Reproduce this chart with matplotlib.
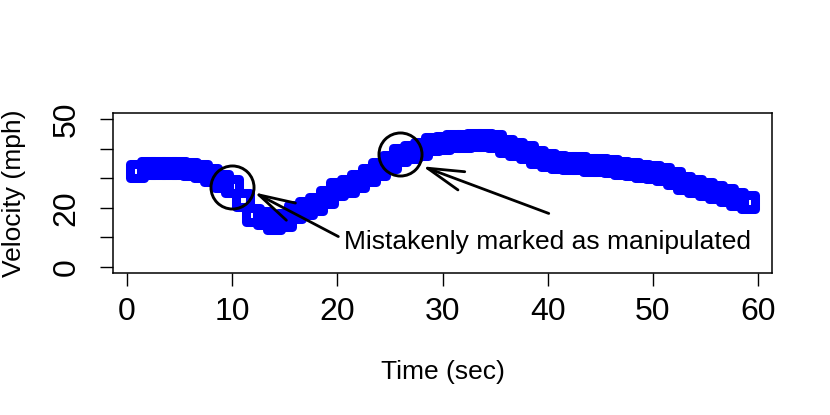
import matplotlib
matplotlib.use("Agg")
import matplotlib.pyplot as plt
from matplotlib.markers import MarkerStyle

## DATA
time_sec = list(range(1, 60))
velocity = [32.3, 33.3, 33.6, 33.6, 33.6, 33.0, 32.3, 31.0, 29.2, 27.2,
            22.8, 17.7, 16.4, 15.0, 16.0, 18.7, 20.0, 21.4, 23.8, 26.2,
            27.5, 29.2, 31.0, 33.0, 35.3, 37.7, 39.0, 40.0, 41.4, 42.0,
            42.7, 42.7, 43.0, 43.0, 42.4, 41.0, 39.7, 38.7, 37.3, 36.3,
            35.3, 35.0, 35.0, 34.6, 34.3, 34.0, 33.3, 33.0, 32.3, 32.0,
            31.3, 29.9, 28.5, 27.5, 26.5, 25.5, 24.2, 23.1, 21.8]

# points that got circled
circled_t = [10, 26]
circled_v = [27.0, 38.0]

# arrows: (tail x, tail y) -> (tip x, tip y)
arrow_tail = [(20.1, 10.3), (40.1, 18.1)]
arrow_tip = [(12.1, 25.2), (28.1, 34.0)]

note = "Mistakenly marked as manipulated"
note_pos = (40.0, 8.6)

x_ticks = [0, 10, 20, 30, 40, 50, 60]
y_ticks = [0, 10, 20, 30, 40, 50]
y_ticklabels = ["0", "", "20", "", "", "50"]

plt.rcParams["font.family"] = ["Liberation Sans", "DejaVu Sans"]

fig = plt.figure(figsize=(8.3, 4.15), dpi=100)
ax = fig.add_axes([113 / 830, 1 - 273 / 415, 659 / 830, 160 / 415])

sq = MarkerStyle("s", fillstyle="none", joinstyle="round")
ax.plot(time_sec, velocity, linestyle="none", marker=sq, markersize=9.5,
        markeredgewidth=6.5, color="#0000ff")

# circles round the flagged points
ax.plot(circled_t, circled_v, linestyle="none", marker="o", markersize=31,
        markerfacecolor="none", markeredgecolor="black", markeredgewidth=2.1)

for tail, tip in zip(arrow_tail, arrow_tip):
    ax.annotate("", xy=tip, xytext=tail,
                arrowprops=dict(arrowstyle="->,head_length=2.6,head_width=0.7",
                                mutation_scale=10, lw=2, color="black",
                                shrinkA=0, shrinkB=0))

ax.text(note_pos[0], note_pos[1], note, fontsize=19, ha="center", va="center")

ax.set_xlim(-1.32, 61.32)
ax.set_ylim(-2, 52)
ax.set_xticks(x_ticks)
ax.set_yticks(y_ticks)
ax.set_yticklabels(y_ticklabels, rotation=90, va="center")
ax.tick_params(axis="both", length=9.5, width=1, labelsize=23)
ax.tick_params(axis="x", pad=8)
ax.tick_params(axis="y", pad=13)
for s in ax.spines.values():
    s.set_linewidth(1.1)

ax.set_xlabel("Time (sec)", fontsize=19, va="center")
ax.xaxis.set_label_coords(0.5, (273 - 372) / 160)
ax.set_ylabel("Velocity (mph)", fontsize=19, va="center")
ax.yaxis.set_label_coords((13.5 - 113) / 659, 0.5)

fig.savefig("out.png", dpi=100)
